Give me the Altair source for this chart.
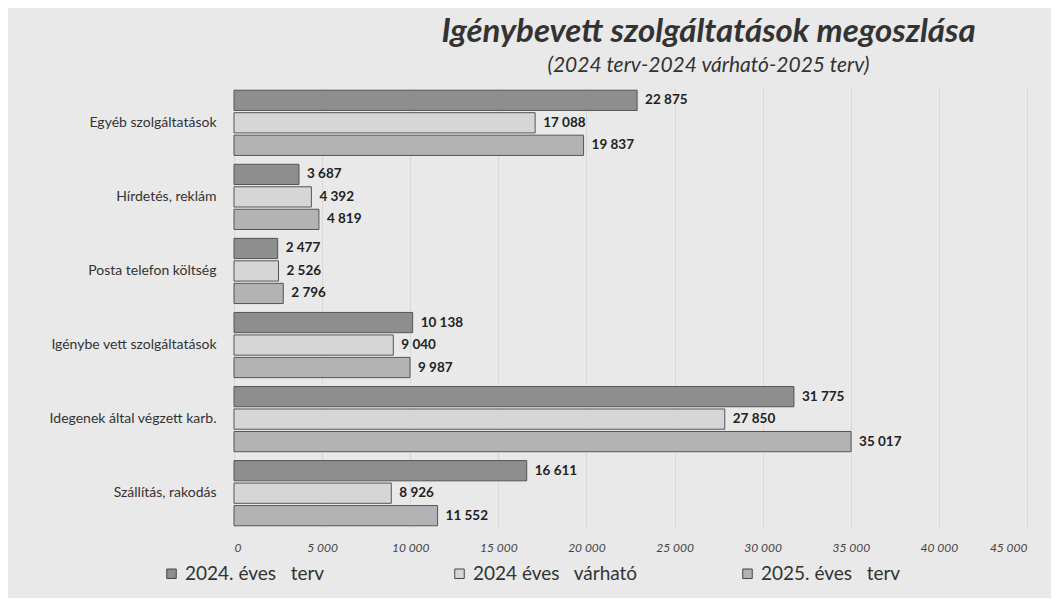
import altair as alt
import pandas as pd

categories = [
    "Egyéb szolgáltatások",
    "Hírdetés, reklám",
    "Posta telefon költség",
    "Igénybe vett szolgáltatások",
    "Idegenek által végzett karb.",
    "Szállítás, rakodás",
]
series = ["2024.\u00a0éves\u00a0\u00a0\u00a0terv", "2024\u00a0éves\u00a0\u00a0\u00a0várható", "2025.\u00a0éves\u00a0\u00a0\u00a0terv"]
terv_2024 = [22875, 3687, 2477, 10138, 31775, 16611]
varhato_2024 = [17088, 4392, 2526, 9040, 27850, 8926]
terv_2025 = [19837, 4819, 2796, 9987, 35017, 11552]
colors = ["#8e8e8e", "#d6d6d6", "#b3b3b3"]

rows = []
for i, c in enumerate(categories):
    for s, vals in zip(series, [terv_2024, varhato_2024, terv_2025]):
        v = vals[i]
        rows.append({"cat": c, "series": s, "value": v,
                     "label": f"{v:,}".replace(",", "\u00a0")})
df = pd.DataFrame(rows)

FONT = "Lato"

y = alt.Y("cat:N", sort=categories, title=None,
          scale=alt.Scale(paddingInner=0.12, paddingOuter=0.03),
          axis=alt.Axis(labelFont=FONT, labelFontSize=14, labelColor="#333",
                        labelFontWeight="normal", ticks=False, domain=False,
                        labelPadding=18, labelLimit=240))
x = alt.X("value:Q", title=None,
          scale=alt.Scale(domain=[0, 45000], nice=False),
          axis=alt.Axis(values=list(range(0, 45001, 5000)),
                        labelExpr="replace(format(datum.value, ','), ',', '\u00a0')",
                        labelFont=FONT, labelFontSize=12, labelFontStyle="italic",
                        labelColor="#444", labelPadding=14, ticks=False, domain=False,
                        grid=True, gridColor="#d8d8d8", gridWidth=1))
yoff = alt.YOffset("series:N", sort=series,
                   scale=alt.Scale(paddingInner=0.1))
color = alt.Color("series:N", sort=series,
                  scale=alt.Scale(domain=series, range=colors),
                  legend=alt.Legend(title=None, orient="none", direction="horizontal",
                                    columns=3, legendX=-72, legendY=476,
                                    labelFont=FONT, labelFontSize=19, labelColor="#333",
                                    symbolType="square", symbolSize=90,
                                    symbolStrokeColor="#444", symbolStrokeWidth=1,
                                    gridAlign="all", columnPadding=100,
                                    labelLimit=300))

bars = alt.Chart(df).mark_bar(stroke="#555", strokeWidth=1).encode(
    x=x, y=y, yOffset=yoff, color=color)
texts = alt.Chart(df).mark_text(align="left", baseline="middle", dx=8,
                                font=FONT, fontSize=13.5, fontWeight="bold",
                                color="#222").encode(
    x="value:Q", y=alt.Y("cat:N", sort=categories), yOffset=yoff, text="label:N")

chart = alt.layer(bars, texts).properties(
    width=793, height=440,
    title=alt.TitleParams(
        text="Igénybevett szolgáltatások megoszlása",
        subtitle="(2024 terv-2024 várható-2025 terv)",
        anchor="middle", dx=78, offset=12,
        font=FONT, fontSize=33, fontStyle="italic", fontWeight="bold", color="#333",
        subtitleFont=FONT, subtitleFontSize=21, subtitleFontStyle="italic",
        subtitleColor="#333", subtitlePadding=6),
    autosize=alt.AutoSizeParams(type="none"),
    padding={"left": 226, "top": 80, "right": 24, "bottom": 70},
    background="#e9e9e9",
).configure_view(stroke=None)

chart.save("out.html", embed_options={"renderer": "svg", "actions": False})
